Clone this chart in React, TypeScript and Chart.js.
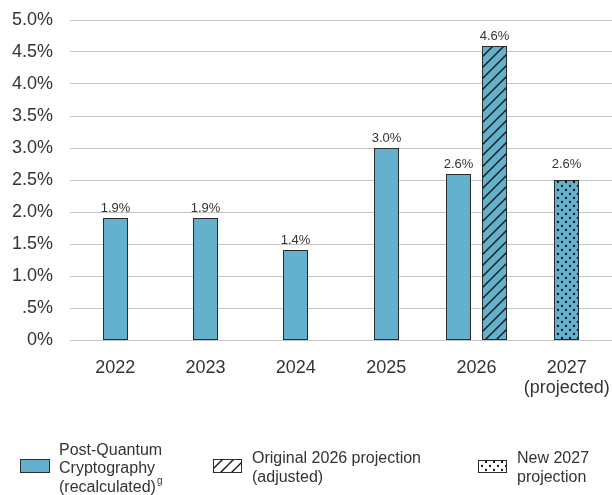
import React, { useEffect, useRef } from 'react';
import { Chart, registerables } from 'chart.js';

Chart.register(...registerables);

const categories: (string | string[])[] = ['2022', '2023', '2024', '2025', '2026', ['2027', '(projected)']];
const pqcValues = [1.9, 1.9, 1.4, 3.0, 2.6, null];
const original2026Values = [null, null, null, null, 4.6, null];
const new2027Values = [null, null, null, null, null, 2.5];
const pqcLabels = ['1.9%', '1.9%', '1.4%', '3.0%', '2.6%', null];
const original2026Labels = [null, null, null, null, '4.6%', null];
const new2027Labels = [null, null, null, null, null, '2.6%'];
const yTickLabels: Record<string, string> = {
  '0': '0%', '0.5': '.5%', '1': '1.0%', '1.5': '1.5%', '2': '2.0%', '2.5': '2.5%',
  '3': '3.0%', '3.5': '3.5%', '4': '4.0%', '4.5': '4.5%', '5': '5.0%',
};
const legendPqc = ['Post-Quantum', 'Cryptography', '(recalculated)'];
const legendPqcSup = 'g';
const legendOriginal = ['Original 2026 projection', '(adjusted)'];
const legendNew = ['New 2027', 'projection'];

const BLUE = '#63b1cd';
const BORDER = '#2b2b2b';
const TEXT = '#333333';
const FONT = '"Liberation Sans", Arial, Helvetica, sans-serif';

function hatchPattern(bg: string): CanvasPattern {
  const s = 11;
  const c = document.createElement('canvas');
  c.width = s; c.height = s;
  const g = c.getContext('2d')!;
  g.fillStyle = bg;
  g.fillRect(0, 0, s, s);
  g.strokeStyle = '#151515';
  g.lineWidth = 1.4;
  g.beginPath();
  g.moveTo(-1, s + 1); g.lineTo(s + 1, -1);
  g.moveTo(-2, 2); g.lineTo(2, -2);
  g.moveTo(s - 2, s + 2); g.lineTo(s + 2, s - 2);
  g.stroke();
  return g.createPattern(c, 'repeat')!;
}

function dotPattern(bg: string): CanvasPattern {
  const s = 8;
  const c = document.createElement('canvas');
  c.width = s; c.height = s;
  const g = c.getContext('2d')!;
  g.fillStyle = bg;
  g.fillRect(0, 0, s, s);
  g.fillStyle = '#111111';
  g.beginPath(); g.arc(2, 2, 1.15, 0, Math.PI * 2); g.fill();
  g.beginPath(); g.arc(6, 6, 1.15, 0, Math.PI * 2); g.fill();
  return g.createPattern(c, 'repeat')!;
}

export default function App() {
  const ref = useRef<HTMLCanvasElement | null>(null);

  useEffect(() => {
    document.body.style.margin = '0';
    const canvas = ref.current!;
    const labelsByDataset = [pqcLabels, original2026Labels, new2027Labels];

    const snapPlugin = {
      id: 'snapBars',
      beforeDatasetsDraw(chart: any) {
        chart.data.datasets.forEach((_ds: any, di: number) => {
          chart.getDatasetMeta(di).data.forEach((el: any) => {
            if (!isFinite(el.x) || !isFinite(el.y)) return;
            el.x = Math.floor(el.x) + 0.5;
            el.y = Math.round(el.y);
            el.base = Math.round(el.base);
            el.width = Math.round(el.width);
          });
        });
      },
    };

    const dataLabelPlugin = {
      id: 'dataLabels',
      afterDatasetsDraw(chart: any) {
        const ctx = chart.ctx;
        const yScale = chart.scales.y;
        ctx.save();
        ctx.font = `13px ${FONT}`;
        ctx.fillStyle = TEXT;
        ctx.textAlign = 'center';
        ctx.textBaseline = 'alphabetic';
        chart.data.datasets.forEach((ds: any, di: number) => {
          const meta = chart.getDatasetMeta(di);
          meta.data.forEach((el: any, i: number) => {
            const txt = labelsByDataset[di][i];
            if (txt == null || ds.data[i] == null) return;
            const v = parseFloat(txt);
            const y = Math.min(el.y, yScale.getPixelForValue(v)) - 6;
            ctx.fillText(txt, el.x, y);
          });
        });
        ctx.restore();
      },
    };

    const legendPlugin = {
      id: 'customLegend',
      afterDraw(chart: any) {
        const ctx = chart.ctx;
        ctx.save();
        ctx.fillStyle = BLUE;
        ctx.fillRect(20, 459, 30, 14);
        ctx.strokeStyle = BORDER;
        ctx.lineWidth = 1;
        ctx.strokeRect(20.5, 459.5, 29, 13);
        ctx.fillStyle = hatchPattern('#ffffff');
        ctx.fillRect(213, 459, 29, 14);
        ctx.strokeRect(213.5, 459.5, 28, 13);
        ctx.fillStyle = dotPattern('#ffffff');
        ctx.fillRect(478, 460, 29, 13);
        ctx.strokeRect(478.5, 460.5, 28, 12);

        ctx.fillStyle = TEXT;
        ctx.font = `16px ${FONT}`;
        ctx.textAlign = 'left';
        ctx.textBaseline = 'alphabetic';
        const b1 = [455, 473, 492];
        legendPqc.forEach((t, i) => ctx.fillText(t, 59, b1[i]));
        const w = ctx.measureText(legendPqc[2]).width;
        ctx.font = `10px ${FONT}`;
        ctx.fillText(legendPqcSup, 59 + w + 1, 484);
        ctx.font = `16px ${FONT}`;
        const b2 = [463, 482];
        legendOriginal.forEach((t, i) => ctx.fillText(t, 252, b2[i]));
        legendNew.forEach((t, i) => ctx.fillText(t, 517, b2[i]));
        ctx.restore();
      },
    };

    const chart = new Chart(canvas, {
      type: 'bar',
      data: {
        labels: categories as any,
        datasets: [
          {
            label: 'Post-Quantum Cryptography (recalculated)',
            data: pqcValues as any,
            backgroundColor: BLUE,
            borderColor: BORDER,
            borderWidth: 1,
            borderSkipped: false,
          },
          {
            label: 'Original 2026 projection (adjusted)',
            data: original2026Values as any,
            backgroundColor: hatchPattern(BLUE) as any,
            borderColor: BORDER,
            borderWidth: 1,
            borderSkipped: false,
          },
          {
            label: 'New 2027 projection',
            data: new2027Values as any,
            backgroundColor: dotPattern(BLUE) as any,
            borderColor: BORDER,
            borderWidth: 1,
            borderSkipped: false,
          },
        ],
      },
      options: {
        responsive: false,
        animation: false,
        devicePixelRatio: 1,
        skipNull: true,
        categoryPercentage: 0.775,
        barPercentage: 0.714,
        maxBarThickness: 25,
        layout: { padding: { top: 20, right: 0, left: 0, bottom: 0 } },
        plugins: {
          legend: { display: false },
          tooltip: { enabled: false },
          title: { display: false },
        },
        scales: {
          x: {
            grid: { display: false },
            border: { display: false },
            ticks: {
              color: TEXT,
              font: { family: FONT, size: 18, lineHeight: 1.1 },
              padding: 10,
              maxRotation: 0,
              autoSkip: false,
            },
            afterFit: (s: any) => { s.height = 155; s.paddingLeft = 0; s.paddingRight = 0; },
          },
          y: {
            min: 0,
            max: 5,
            grid: { color: '#c4c4c4', drawTicks: false, lineWidth: 1 },
            border: { display: false },
            ticks: {
              stepSize: 0.5,
              color: TEXT,
              font: { family: FONT, size: 18 },
              padding: 17,
              callback: (v: any) => yTickLabels[String(Math.round(Number(v) * 10) / 10)] ?? '',
            },
            afterFit: (s: any) => { s.width = 70; s.paddingTop = 0; s.paddingBottom = 0; },
          },
        },
      } as any,
      plugins: [snapPlugin, dataLabelPlugin, legendPlugin],
    });
    return () => chart.destroy();
  }, []);

  return (
    <div style={{ width: 612, height: 495 }}>
      <canvas ref={ref} width={612} height={495} style={{ display: 'block' }} />
    </div>
  );
}
